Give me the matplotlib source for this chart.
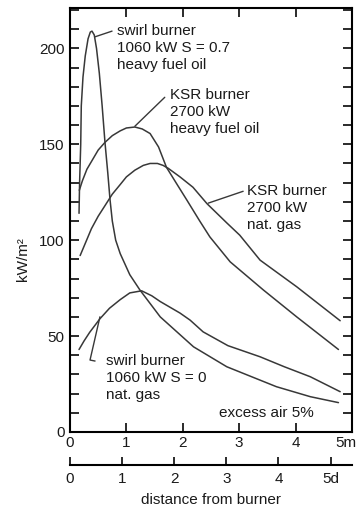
import matplotlib
matplotlib.use("Agg")
import matplotlib.pyplot as plt
from matplotlib.transforms import ScaledTranslation

plt.rcParams['font.family'] = ['Liberation Sans', 'DejaVu Sans']

# heat flux along the furnace, kW/m2
swirl07_x = [0.16, 0.17, 0.19, 0.20, 0.23, 0.27, 0.32, 0.36, 0.39, 0.43, 0.47, 0.52, 0.57,
             0.62, 0.67, 0.71, 0.75, 0.81, 0.89, 1.06, 1.24, 1.60, 2.19, 2.78, 3.66, 4.26, 4.76]
swirl07_y = [114, 130, 150, 170, 185, 196, 205, 208.5, 209, 207, 200, 187, 170,
             151, 135, 121, 110, 100, 93, 82, 74, 60, 44.4, 34, 23.6, 18.4, 15.3]

ksr_oil_x = [0.165, 0.22, 0.30, 0.40, 0.50, 0.62, 0.75, 0.89, 1.00, 1.15, 1.28, 1.42, 1.57,
             1.71, 1.90, 2.07, 2.30, 2.48, 2.84, 3.43, 4.02, 4.76]
ksr_oil_y = [126, 131, 137, 142, 147, 151, 154.5, 157, 158.5, 159, 158, 155.6, 148.6,
             138, 129, 121, 110, 101.7, 88.7, 74, 60, 43]

ksr_gas_x = [0.18, 0.28, 0.38, 0.50, 0.62, 0.75, 0.89, 1.00, 1.15, 1.30, 1.42, 1.55, 1.65,
             1.74, 1.95, 2.18, 2.43, 2.78, 3.01, 3.37, 4.02, 4.79]
ksr_gas_y = [92, 99, 106, 112.5, 118, 124, 129, 133, 136.5, 139, 140, 140, 139,
             137.5, 133, 127.6, 119, 109, 102.6, 89.6, 75.7, 58]

swirl0_x = [0.16, 0.25, 0.35, 0.53, 0.70, 0.89, 1.06, 1.27, 1.45, 1.60, 1.95, 2.13, 2.36,
            2.80, 3.37, 3.80, 4.26, 4.79]
swirl0_y = [43, 47.5, 52, 59, 64.5, 69, 72.5, 73.6, 71, 68, 62, 58.3, 52.2,
            45, 39.2, 34, 28.8, 21]

x_ticks = [0, 1, 2, 3, 4, 5]
x_labels = ['0', '1', '2', '3', '4', '5m']
d_ticks = [0, 1, 2, 3, 4, 5]
d_labels = ['0', '1', '2', '3', '4', '5d']
d_metres = 0.924  # one burner diameter in m

ink = '#1a1a1a'
curve = '#383838'
fs = 11

fig = plt.figure(figsize=(3.59, 5.07), dpi=100)
ax = fig.add_axes([0.195, 0.148, 0.7855, 0.836])

for xs, ys in [(swirl07_x, swirl07_y), (ksr_oil_x, ksr_oil_y),
               (ksr_gas_x, ksr_gas_y), (swirl0_x, swirl0_y)]:
    ax.plot(xs, ys, color=curve, lw=1.1, solid_joinstyle='round', solid_capstyle='round')

ax.set_xlim(0, 5)
ax.set_ylim(0, 221)

for sp in ax.spines.values():
    sp.set_linewidth(1.5)

ax.set_yticks([0, 50, 100, 150, 200])
ax.set_yticks(range(10, 221, 10), minor=True)
ax.set_xticks(x_ticks)
ax.set_xticklabels(x_labels)
ax.tick_params(axis='both', which='both', direction='in', length=6.5, width=1.3,
               colors=ink, labelsize=fs, right=True, top=True)
ax.tick_params(axis='y', pad=4)
ax.tick_params(axis='x', pad=3)

# the last "5m" label sits at the right edge, nudge it in a little
last = ax.get_xticklabels()[-1]
last.set_transform(last.get_transform() + ScaledTranslation(-6 / 100, 0, fig.dpi_scale_trans))

ax.set_ylabel('kW/m²', fontsize=fs, color=ink)
ax.yaxis.set_label_coords(-0.142, 0.408)

# second scale: distance in burner diameters
def m2d(m):
    return m / d_metres

def d2m(d):
    return d * d_metres

sec = ax.secondary_xaxis(-0.078, functions=(m2d, d2m))
sec.set_xticks(d_ticks)
sec.set_xticklabels(d_labels)
sec.spines['bottom'].set_linewidth(1.5)
sec.tick_params(direction='in', length=6, width=1.3, colors=ink, labelsize=fs, pad=5)
sec.set_xlabel('distance from burner', fontsize=fs, color=ink, labelpad=5)

# curve labels and leaders
lead = dict(arrowstyle='-', color=curve, lw=1.0, shrinkA=0, shrinkB=0)
ax.annotate('', xy=(0.44, 206), xytext=(0.745, 209), arrowprops=lead)
ax.text(0.83, 200, 'swirl burner\n1060 kW S = 0.7\nheavy fuel oil',
        fontsize=fs, color=ink, va='center', ha='left', linespacing=1.28)

ax.annotate('', xy=(1.15, 159.4), xytext=(1.68, 174.5), arrowprops=lead)
ax.text(1.77, 166.7, 'KSR burner\n2700 kW\nheavy fuel oil',
        fontsize=fs, color=ink, va='center', ha='left', linespacing=1.28)

ax.annotate('', xy=(2.45, 119.3), xytext=(3.07, 125.5), arrowprops=lead)
ax.text(3.14, 116.7, 'KSR burner\n2700 kW\nnat. gas',
        fontsize=fs, color=ink, va='center', ha='left', linespacing=1.28)

ax.plot([0.53, 0.355, 0.44], [59.9, 37.5, 37.0], color=curve, lw=1.0)
ax.text(0.64, 28.1, 'swirl burner\n1060 kW S = 0\nnat. gas',
        fontsize=fs, color=ink, va='center', ha='left', linespacing=1.28)

ax.text(3.48, 9.9, 'excess air 5%', fontsize=fs, color=ink, va='center', ha='center')

fig.savefig('out.png', dpi=100)
